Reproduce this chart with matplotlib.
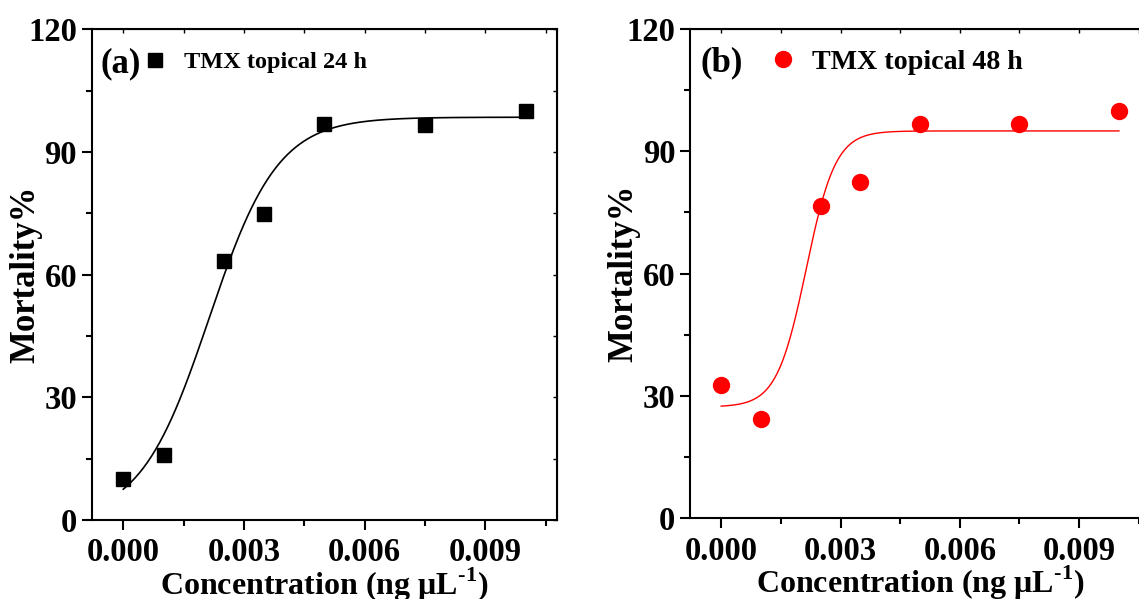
import matplotlib
matplotlib.use("Agg")
import matplotlib.pyplot as plt
import numpy as np

plt.rcParams["font.family"] = ["Liberation Serif", "DejaVu Serif"]
plt.rcParams["font.weight"] = "bold"
plt.rcParams["mathtext.fontset"] = "custom"
plt.rcParams["mathtext.rm"] = "Liberation Serif:bold"
plt.rcParams["mathtext.bf"] = "Liberation Serif:bold"

# measured points (concentration in ng/uL, mortality %)
conc = [0.0, 0.001, 0.0025, 0.0035, 0.005, 0.0075, 0.01]
mort_24h = [10.0, 15.9, 63.3, 74.8, 96.8, 96.6, 100.0]
mort_48h = [32.8, 24.4, 76.5, 82.4, 96.8, 96.6, 100.0]

# Boltzmann fit parameters: A1, A2, x0, dx
fit_24h = (0.0, 98.5, 0.00213, 0.000855)
fit_48h = (27.3, 95.0, 0.002137, 0.00037)

panel_tags = ["(a)", "(b)"]
series_names = ["TMX topical 24 h", "TMX topical 48 h"]
x_ticks = [0.0, 0.003, 0.006, 0.009]
x_minor = [0.0015, 0.0045, 0.0075, 0.0105]
y_ticks = [0, 30, 60, 90, 120]
y_minor = [15, 45, 75, 105]


def boltzmann(x, a1, a2, x0, dx):
    return a2 + (a1 - a2) / (1.0 + np.exp((x - x0) / dx))


def style_axes(ax):
    ax.set_xlim(-0.000785, 0.010772)
    ax.set_ylim(0, 120)
    ax.set_xticks(x_ticks)
    ax.set_xticklabels([f"{t:.3f}" for t in x_ticks])
    ax.set_xticks(x_minor, minor=True)
    ax.set_yticks(y_ticks)
    ax.set_yticks(y_minor, minor=True)
    for s in ax.spines.values():
        s.set_linewidth(1.5)
    ax.tick_params(which="major", direction="out", length=7.5, width=1.5,
                   labelsize=23.5, pad=3)
    ax.tick_params(which="minor", direction="out", length=4, width=1.5)
    ax.tick_params(axis="x", which="major", pad=5)
    # small inward ticks on the opposite spines
    sx = ax.secondary_xaxis("top")
    sx.set_xticks(x_ticks)
    sx.set_xticks(x_minor, minor=True)
    sx.tick_params(which="both", direction="in", length=3, width=1, labeltop=False)
    sy = ax.secondary_yaxis("right")
    sy.set_yticks(y_ticks)
    sy.set_yticks(y_minor, minor=True)
    sy.tick_params(which="both", direction="in", length=3, width=1, labelright=False)
    ax.set_xlabel(r"Concentration (ng μL$^{\text{-}\mathbf{1}}$)", fontsize=23,
                  fontweight="bold", labelpad=-2)
    ax.set_ylabel("Mortality%", fontsize=25, fontweight="bold", labelpad=-10)


fig = plt.figure(figsize=(11.39, 5.99), dpi=100)
ax1 = fig.add_axes([0.0805, 0.1319, 0.4083, 0.8192])
ax2 = fig.add_axes([0.6058, 0.1347, 0.4035, 0.8169])

xs = np.linspace(0.0, 0.01, 400)

ax1.plot(xs, boltzmann(xs, *fit_24h), color="black", lw=1.2)
ax1.plot(conc, mort_24h, ls="none", marker="s", ms=10, color="black",
         label=series_names[0])

ax2.plot(xs, boltzmann(xs, *fit_48h), color="red", lw=1.0)
ax2.plot(conc, mort_48h, ls="none", marker="o", ms=11.5, color="red",
         label=series_names[1])

legend_cfg = [
    (ax1, panel_tags[0], 0.018, 0.1146, 17.5, 0.8),
    (ax2, panel_tags[1], 0.022, 0.178, 20.2, 0.65),
]
for ax, tag, tx, hx, fs, tp in legend_cfg:
    style_axes(ax)
    ax.text(tx, 0.93, tag, transform=ax.transAxes, fontsize=25,
            fontweight="bold", va="center", ha="left")
    ax.legend(loc="center left", bbox_to_anchor=(hx, 0.933), frameon=False,
              handlelength=0.8, handletextpad=tp, borderpad=0, borderaxespad=0,
              prop={"size": fs, "weight": "bold"})

fig.savefig("out.png", dpi=100)
